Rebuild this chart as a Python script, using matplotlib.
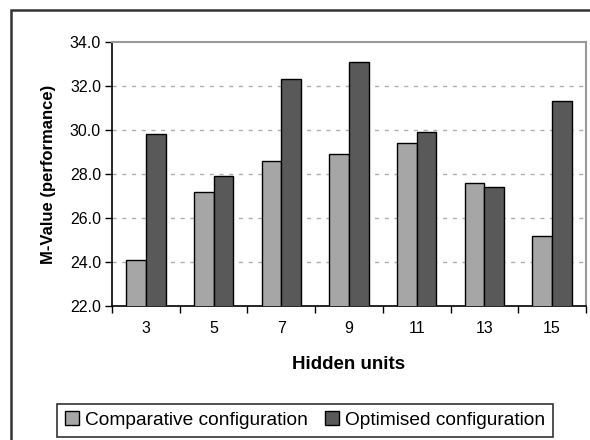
import matplotlib.pyplot as plt
import numpy as np
from matplotlib.patches import Rectangle

plt.rcParams['font.family'] = ['Liberation Sans', 'DejaVu Sans']

hidden_units = ["3", "5", "7", "9", "11", "13", "15"]
comparative = [24.1, 27.2, 28.6, 28.9, 29.4, 27.6, 25.2]
optimised = [29.8, 27.9, 32.3, 33.1, 29.9, 27.4, 31.3]

fig = plt.figure(figsize=(5.9, 4.4), dpi=100)
ax = fig.add_axes([0.19, 0.3045, 0.803, 0.6])

x = np.arange(len(hidden_units))
w = 0.29
ax.bar(x - w / 2, comparative, w, color="#a6a6a6", edgecolor="black", linewidth=1.0,
       label="Comparative configuration", zorder=3)
ax.bar(x + w / 2, optimised, w, color="#595959", edgecolor="black", linewidth=1.0,
       label="Optimised configuration", zorder=3)

ax.set_ylim(22, 34)
ax.set_xlim(-0.5, len(hidden_units) - 0.5)
ax.set_yticks(np.arange(22, 34.1, 2))
ax.set_yticklabels([f"{v:.1f}" for v in np.arange(22, 34.1, 2)], fontsize=11.5)
ax.set_xticks(x)
ax.set_xticklabels(hidden_units, fontsize=11.5)
ax.tick_params(axis="x", length=0, pad=11)
ax.set_xticks(np.arange(-0.5, len(hidden_units)), minor=True)
ax.tick_params(axis="x", which="minor", length=5, direction="out", width=1)
ax.tick_params(axis="y", length=5, width=1, direction="out", pad=3)

for v in np.arange(24, 33, 2):
    ax.axhline(v, color="#b0b0b0", linestyle=(0, (3, 4)), linewidth=1, zorder=1)

ax.spines["left"].set_color("black")
ax.spines["bottom"].set_color("black")
ax.spines["left"].set_linewidth(1.2)
ax.spines["bottom"].set_linewidth(1.2)
for s in ("top", "right"):
    ax.spines[s].set_color("#999999")
    ax.spines[s].set_linewidth(1.5)

ax.set_xlabel("Hidden units", fontsize=13.5, fontweight="bold", labelpad=14)
ax.set_ylabel("M-Value (performance)", fontsize=12, fontweight="bold", labelpad=10)

leg = fig.legend(loc="center", bbox_to_anchor=(0.517, 0.045), ncol=2, fontsize=13.8,
                 frameon=True, fancybox=False, edgecolor="black", handlelength=0.75,
                 handleheight=0.75, handletextpad=0.3, columnspacing=0.9,
                 borderpad=0.4)
leg.get_frame().set_linewidth(1.2)

fig.patches.append(Rectangle((11 / 590, -0.1), 1.2, 1.1 - 10 / 440,
                             transform=fig.transFigure, fill=False,
                             edgecolor="#333333", linewidth=1.8))

fig.savefig("out.png", dpi=100)
